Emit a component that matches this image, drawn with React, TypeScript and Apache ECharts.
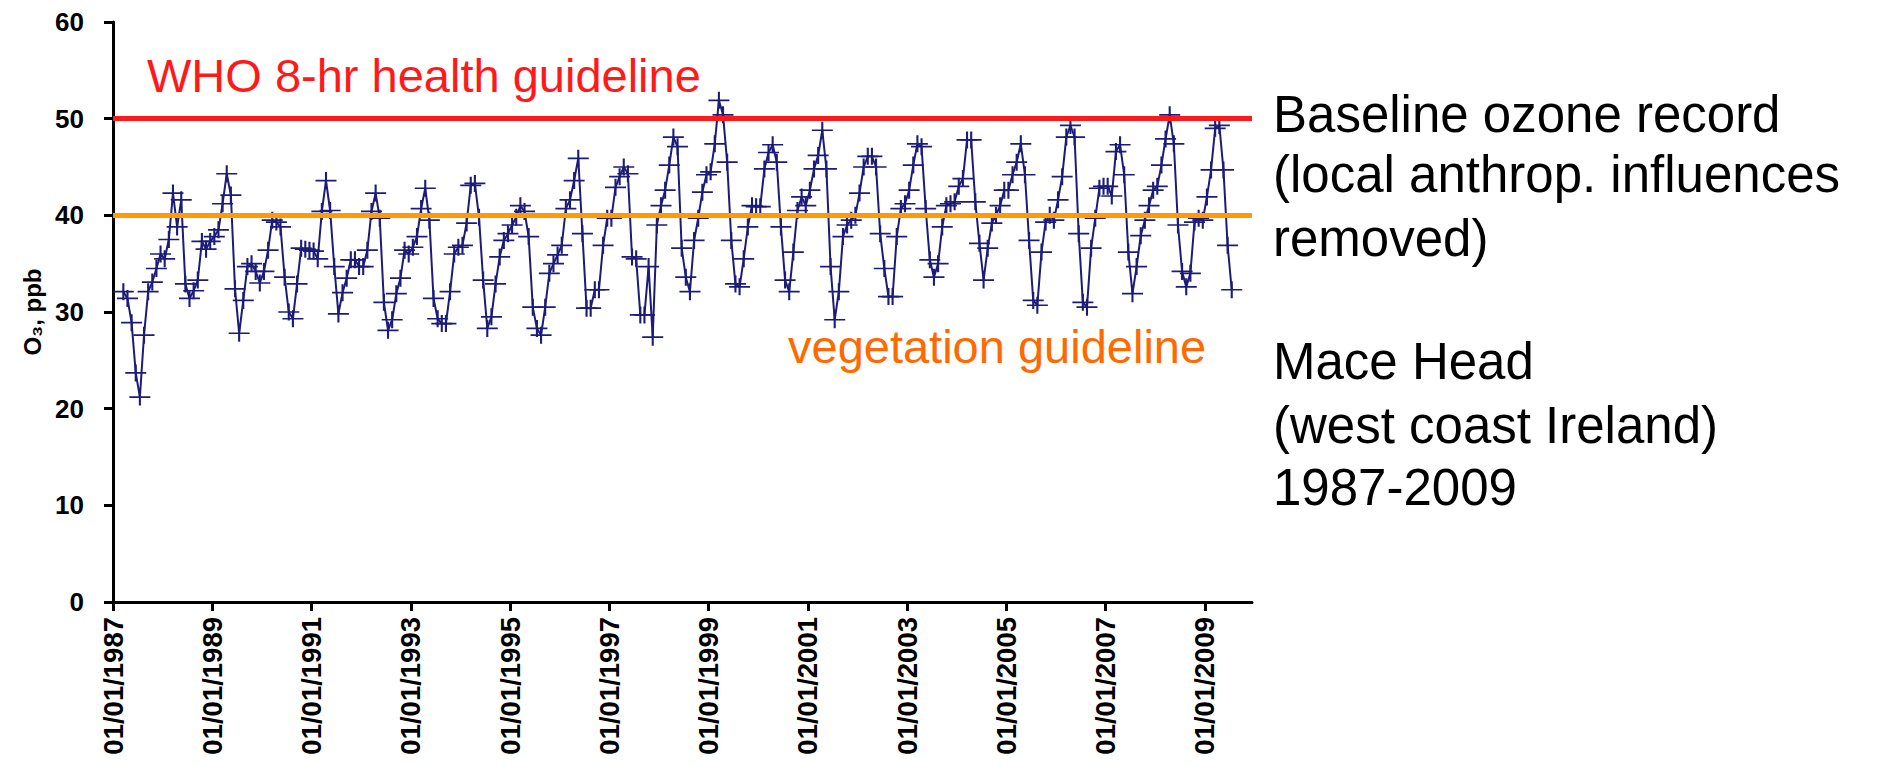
import React, { useEffect, useRef } from "react";
import * as echarts from "echarts";

// Monthly baseline ozone (ppb), Mace Head
const o3_1987 = [32.1, 31.4, 28.9, 23.7, 21.2, 27.6, 32.1, 33.1, 34.5, 36.0]; // Mar-Dec
const o3_1988 = [35.5, 37.5, 42.3, 38.8, 41.6, 32.9, 31.4, 32.2, 33.3, 37.3, 36.5, 37.3];
const o3_1989 = [37.8, 38.5, 41.2, 44.3, 42.1, 32.4, 27.8, 31.2, 34.7, 35.0, 34.2, 33.0];
const o3_1990 = [34.2, 36.4, 39.5, 39.3, 38.8, 33.6, 30.0, 29.3, 32.9, 36.6, 36.5, 36.4];
const o3_1991 = [36.3, 35.5, 40.4, 43.6, 40.5, 34.7, 29.8, 32.0, 33.5, 35.4, 35.4, 34.7];
const o3_1992 = [34.7, 36.4, 40.4, 42.3, 39.7, 31.0, 28.1, 29.2, 31.9, 33.5, 36.4, 36.0];
const o3_1993 = [36.7, 37.8, 40.7, 42.8, 39.5, 31.4, 29.3, 28.8, 28.8, 32.1, 36.0, 36.7];
const o3_1994 = [36.9, 39.2, 43.1, 43.3, 39.8, 33.3, 28.3, 29.5, 32.9, 35.7, 37.4, 38.1];
const o3_1995 = [39.0, 39.8, 41.0, 40.4, 37.8, 30.5, 28.3, 27.6, 30.5, 34.0, 35.0, 35.9];
const o3_1996 = [36.9, 40.7, 41.6, 43.6, 45.9, 38.1, 30.4, 30.4, 32.3, 32.3, 36.9, 39.7];
const o3_1997 = [39.7, 42.9, 44.0, 45.0, 44.3, 35.7, 35.5, 29.7, 29.7, 34.7, 27.4, 39.0];
const o3_1998 = [41.0, 42.6, 45.2, 48.1, 47.1, 36.6, 33.6, 32.1, 37.4, 39.7, 42.4, 44.2];
const o3_1999 = [44.5, 47.4, 51.9, 50.4, 45.5, 37.4, 32.9, 32.6, 35.5, 38.8, 41.0, 40.9];
const o3_2000 = [40.9, 44.8, 46.5, 47.3, 45.5, 38.8, 33.3, 32.1, 36.2, 40.5, 41.9, 41.0];
const o3_2001 = [42.6, 44.8, 46.2, 48.8, 44.8, 34.7, 29.2, 32.1, 37.8, 39.0, 39.5, 40.0];
const o3_2002 = [42.3, 45.0, 46.1, 46.1, 45.0, 38.1, 34.5, 31.6, 31.6, 37.8, 40.7, 41.2];
const o3_2003 = [42.6, 45.2, 47.4, 47.1, 40.7, 35.4, 33.6, 35.0, 38.8, 41.0, 41.2, 41.4];
const o3_2004 = [43.0, 43.8, 47.8, 47.8, 41.4, 37.1, 33.3, 36.6, 39.2, 40.0, 41.0, 42.6];
const o3_2005 = [42.6, 44.2, 45.5, 47.4, 44.2, 37.4, 31.2, 30.7, 36.2, 39.3, 40.0, 39.5];
const o3_2006 = [41.6, 44.0, 48.1, 49.3, 48.1, 38.1, 31.0, 30.5, 36.6, 39.7, 42.8, 43.0];
const o3_2007 = [43.0, 42.0, 46.6, 47.3, 44.2, 36.2, 31.9, 34.7, 37.9, 39.5, 41.0, 42.6];
const o3_2008 = [43.0, 45.2, 47.9, 50.4, 47.4, 39.0, 34.2, 32.6, 34.0, 39.3, 39.7, 39.5];
const o3_2009 = [41.9, 44.7, 49.0, 49.3, 44.7, 36.9, 32.3]; // Jan-Jul

const BASE_YEAR = 1987;
// [year, index of first month (0 = Jan), values]
const yearBlocks: [number, number, number[]][] = [
  [1987, 2, o3_1987], [1988, 0, o3_1988], [1989, 0, o3_1989], [1990, 0, o3_1990],
  [1991, 0, o3_1991], [1992, 0, o3_1992], [1993, 0, o3_1993], [1994, 0, o3_1994],
  [1995, 0, o3_1995], [1996, 0, o3_1996], [1997, 0, o3_1997], [1998, 0, o3_1998],
  [1999, 0, o3_1999], [2000, 0, o3_2000], [2001, 0, o3_2001], [2002, 0, o3_2002],
  [2003, 0, o3_2003], [2004, 0, o3_2004], [2005, 0, o3_2005], [2006, 0, o3_2006],
  [2007, 0, o3_2007], [2008, 0, o3_2008], [2009, 0, o3_2009],
];

const tickYears = [1987, 1989, 1991, 1993, 1995, 1997, 1999, 2001, 2003, 2005, 2007, 2009];
const WHO_LIMIT = 50;
const VEG_LIMIT = 40;

const whoLabel = "WHO 8-hr health guideline";
const vegLabel = "vegetation guideline";
const sideLines = [
  "Baseline ozone record",
  "(local anthrop. influences",
  "removed)",
  "Mace Head",
  "(west coast Ireland)",
  "1987-2009",
];
const sideLineY = [114, 174, 238, 361, 425, 487];

const PLUS =
  "path://M0 9 L20 9 L20 11 L0 11 Z M9 0 L11 0 L11 20 L9 20 Z";

const BOLD_FONT = "'Liberation Sans', Arial, Helvetica, sans-serif";
const SANS = "'Liberation Sans', Arial, Helvetica, sans-serif";

export default function App() {
  const ref = useRef<HTMLDivElement>(null);

  useEffect(() => {
    if (!ref.current) return;
    const chart = echarts.init(ref.current, undefined, { renderer: "svg" });

    const data: [number, number][] = [];
    yearBlocks.forEach(([yr, m0, vals]) => {
      vals.forEach((v, i) => {
        data.push([yr - BASE_YEAR + (m0 + i + 0.5) / 12, v]);
      });
    });
    const tickVals = tickYears.map((y) => y - BASE_YEAR);

    const graphics: any[] = [
      {
        type: "text",
        x: 147,
        y: 75,
        style: {
          text: whoLabel,
          fill: "#ff1a1a",
          fontSize: 47,
          fontFamily: SANS,
          verticalAlign: "middle",
          align: "left",
        },
      },
      {
        type: "text",
        x: 788,
        y: 346,
        style: {
          text: vegLabel,
          fill: "#ff6a00",
          fontSize: 47,
          fontFamily: SANS,
          verticalAlign: "middle",
          align: "left",
        },
      },
      ...sideLines.map((t, i) => ({
        type: "text",
        x: 1273,
        y: sideLineY[i],
        style: {
          text: t,
          fill: "#000000",
          fontSize: 51,
          fontFamily: SANS,
          verticalAlign: "middle",
          align: "left",
        },
      })),
    ];

    chart.setOption({
      animation: false,
      backgroundColor: "#ffffff",
      grid: {
        left: 113,
        right: 634,
        top: 22,
        bottom: 163,
        containLabel: false,
        outerBoundsMode: "none",
      },
      xAxis: {
        type: "value",
        min: 0,
        max: 22.95,
        interval: 2,
        axisLine: { show: true, onZero: false, lineStyle: { color: "#000", width: 3 } },
        axisTick: { show: true, length: 9, lineStyle: { color: "#000", width: 3 }, customValues: tickVals },
        splitLine: { show: false },
        axisLabel: {
          customValues: tickVals,
          rotate: 90,
          margin: 15,
          color: "#000",
          fontWeight: "bold",
          fontSize: 27.5,
          fontFamily: BOLD_FONT,
          formatter: (v: number) => "01/01/" + (BASE_YEAR + Math.round(v)),
        },
      },
      yAxis: {
        type: "value",
        min: 0,
        max: 60,
        interval: 10,
        name: "O\u2083, ppb",
        nameLocation: "middle",
        nameRotate: 90,
        nameGap: 60,
        nameTextStyle: { color: "#000", fontWeight: "bold", fontSize: 24, fontFamily: BOLD_FONT },
        axisLine: { show: true, lineStyle: { color: "#000", width: 3 } },
        axisTick: { show: true, length: 9, lineStyle: { color: "#000", width: 3 } },
        splitLine: { show: false },
        axisLabel: {
          margin: 29,
          color: "#000",
          fontWeight: "bold",
          fontSize: 26,
          fontFamily: BOLD_FONT,
        },
      },
      series: [
        {
          type: "line",
          data,
          symbol: PLUS,
          symbolSize: [21, 17],
          showSymbol: true,
          lineStyle: { color: "#1c1c78", width: 2 },
          itemStyle: { color: "#1c1c78" },
          z: 2,
          markLine: {
            silent: true,
            symbol: "none",
            label: { show: false },
            z: 5,
            data: [
              { yAxis: WHO_LIMIT, lineStyle: { color: "#ff1a1a", width: 5, type: "solid" } },
              { yAxis: VEG_LIMIT, lineStyle: { color: "#ff9a00", width: 5, type: "solid" } },
            ],
          },
        },
      ],
      graphic: graphics,
    });

    return () => chart.dispose();
  }, []);

  return (
    <div
      ref={ref}
      style={{ position: "fixed", left: 0, top: 0, width: 1886, height: 765, background: "#fff" }}
    />
  );
}
